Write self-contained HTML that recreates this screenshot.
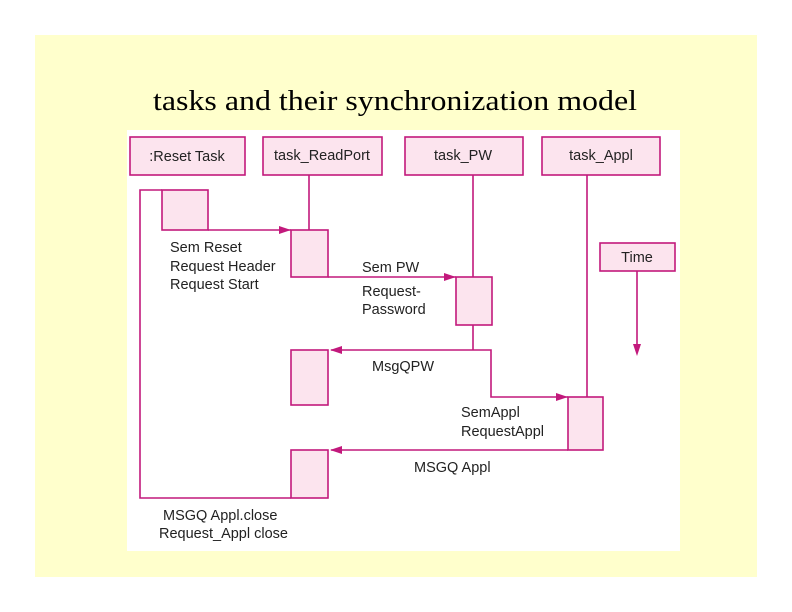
<!DOCTYPE html>
<html><head><style>
body{margin:0;background:#fff;}
</style></head><body>
<svg width="792" height="612" xmlns="http://www.w3.org/2000/svg" style="display:block">
<rect x="0" y="0" width="792" height="612" fill="#fff"/>
<rect x="35" y="35" width="722" height="542" fill="#ffffcc"/>
<text x="153" y="110" textLength="484" lengthAdjust="spacingAndGlyphs" font-family="Liberation Serif, serif" font-size="28" fill="#000">tasks and their synchronization model</text>
<rect x="127" y="130" width="553" height="421" fill="#fff"/>
<g stroke="#c2197c" stroke-width="1.6" fill="#fce4ee">
<rect x="130" y="137" width="115" height="38"/>
<rect x="263" y="137" width="119" height="38"/>
<rect x="405" y="137" width="118" height="38"/>
<rect x="542" y="137" width="118" height="38"/>
<rect x="600" y="243" width="75" height="28"/>
<line x1="309" y1="175" x2="309" y2="230"/>
<line x1="473" y1="175" x2="473" y2="277"/>
<line x1="587" y1="175" x2="587" y2="397"/>
<line x1="637" y1="271" x2="637" y2="350"/>
<polyline points="162,190 140,190 140,498 291,498" fill="none"/>
<rect x="162" y="190" width="46" height="40"/>
<line x1="208" y1="230" x2="291" y2="230"/>
<rect x="291" y="230" width="37" height="47"/>
<line x1="328" y1="277" x2="456" y2="277"/>
<rect x="456" y="277" width="36" height="48"/>
<line x1="473" y1="325" x2="473" y2="350"/>
<polyline points="331,350 491,350 491,397 568,397" fill="none"/>
<rect x="291" y="350" width="37" height="55"/>
<rect x="568" y="397" width="35" height="53"/>
<line x1="568" y1="450" x2="331" y2="450"/>
<rect x="291" y="450" width="37" height="48"/>
</g>
<g fill="#c2197c">
<polygon points="291,230 279,226 279,234"/>
<polygon points="456,277 444,273 444,281"/>
<polygon points="568,397 556,393 556,401"/>
<polygon points="330,350 342,346 342,354"/>
<polygon points="330,450 342,446 342,454"/>
<polygon points="637,356 633,344 641,344"/>
</g>
<g font-family="Liberation Sans, sans-serif" font-size="14.5" fill="#222">
<text x="187" y="161" text-anchor="middle">:Reset Task</text>
<text x="322" y="160" text-anchor="middle">task_ReadPort</text>
<text x="463" y="160" text-anchor="middle">task_PW</text>
<text x="601" y="160" text-anchor="middle">task_Appl</text>
<text x="637" y="262" text-anchor="middle">Time</text>
<text x="170" y="252">Sem Reset</text>
<text x="170" y="271">Request Header</text>
<text x="170" y="289">Request Start</text>
<text x="362" y="272">Sem PW</text>
<text x="362" y="296">Request-</text>
<text x="362" y="314">Password</text>
<text x="372" y="371">MsgQPW</text>
<text x="461" y="417">SemAppl</text>
<text x="461" y="436">RequestAppl</text>
<text x="414" y="472">MSGQ Appl</text>
<text x="163" y="520">MSGQ Appl.close</text>
<text x="159" y="538">Request_Appl close</text>
</g>
</svg>
</body></html>
